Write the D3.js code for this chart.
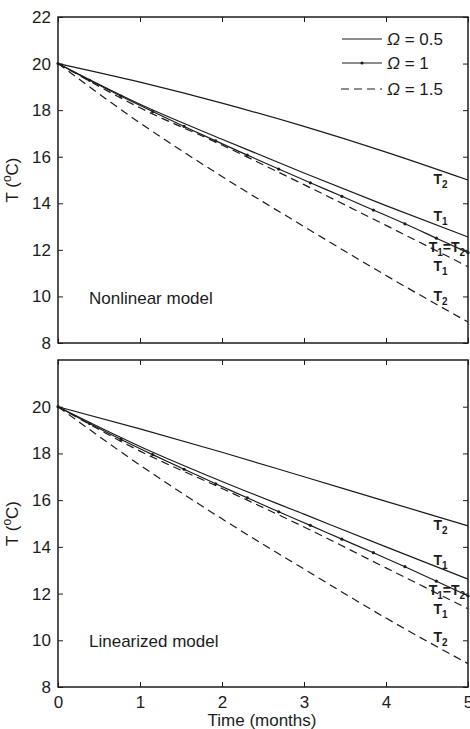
<!DOCTYPE html>
<html><head><meta charset="utf-8">
<script src="https://cdn.jsdelivr.net/npm/d3@7"></script>
<style>body{margin:0;background:#fff}svg{display:block;font-family:"Liberation Sans",Arial,sans-serif}</style>
</head><body><svg id="c" width="470" height="729"></svg>
<script>
// ---- data ----
const months = [0, 1, 2, 3, 4, 5];
const monthsW1 = [0, 0.385, 0.769, 1.154, 1.538, 1.923, 2.308, 2.692, 3.077, 3.462, 3.846, 4.231, 4.615, 5];
const yTicks = [8, 10, 12, 14, 16, 18, 20, 22];
const xTicks = [0, 1, 2, 3, 4, 5];
// Nonlinear model
const nlT2w05 = [20, 19.2, 18.3, 17.3, 16.2, 15.0];
const nlT1w05 = [20, 18.25, 16.75, 15.3, 13.9, 12.55];
const nlTw1  = [20, 19.28, 18.6, 17.94, 17.3, 16.68, 16.07, 15.47, 14.88, 14.3, 13.71, 13.12, 12.5, 11.88];
const nlT1w15 = [20, 18.1, 16.5, 14.8, 13.05, 11.28];
const nlT2w15 = [20, 17.45, 15.15, 13.0, 10.9, 8.9];
// Linearized model
const liT2w05 = [20, 19.05, 18.05, 17.0, 15.95, 14.9];
const liT1w05 = [20, 18.3, 16.8, 15.4, 14.0, 12.62];
const liTw1  = [20, 19.28, 18.6, 17.95, 17.32, 16.7, 16.1, 15.5, 14.92, 14.33, 13.75, 13.15, 12.53, 11.9];
const liT1w15 = [20, 18.1, 16.5, 14.85, 13.1, 11.35];
const liT2w15 = [20, 17.5, 15.2, 13.05, 10.95, 9.0];
const legendLabels = ["0.5", "1", "1.5"];
const panelTitles = ["Nonlinear model", "Linearized model"];
// curve annotations: [x, y, subscript]
const nlNotes = [[4.58, 15.0, "2"], [4.58, 13.4, "1"], [4.52, 12.1, "1=2"], [4.58, 11.26, "1"], [4.58, 9.98, "2"]];
const liNotes = [[4.58, 14.9, "2"], [4.58, 13.4, "1"], [4.52, 12.1, "1=2"], [4.58, 11.3, "1"], [4.58, 10.1, "2"]];

// ---- drawing ----
const svg = d3.select("#c");
const ink = "#1c1c1c";
const L = 58, R = 468;
const x = d3.scaleLinear().domain([0, 5]).range([L, R]);
const FS = 17;

function panel(top, bottom, series, w1, notes, title, showXLabels, showTop22) {
  const y = d3.scaleLinear().domain([8, 22]).range([bottom, top]);
  const g = svg.append("g");
  const line = (xs) => d3.line().x((d, i) => x(xs[i])).y(d => y(d)).curve(d3.curveMonotoneX);
  const lw = 1.2;
  g.append("path").attr("d", line(months)(series[0])).attr("fill", "none").attr("stroke", ink).attr("stroke-width", lw);
  g.append("path").attr("d", line(months)(series[1])).attr("fill", "none").attr("stroke", ink).attr("stroke-width", lw);
  g.append("path").attr("d", line(monthsW1)(w1)).attr("fill", "none").attr("stroke", ink).attr("stroke-width", lw);
  g.selectAll(null).data(w1).enter().append("circle")
    .attr("cx", (d, i) => x(monthsW1[i])).attr("cy", d => y(d)).attr("r", 1.6).attr("fill", ink);
  g.append("path").attr("d", line(months)(series[2])).attr("fill", "none").attr("stroke", ink).attr("stroke-width", lw).attr("stroke-dasharray", "8,5");
  g.append("path").attr("d", line(months)(series[3])).attr("fill", "none").attr("stroke", ink).attr("stroke-width", lw).attr("stroke-dasharray", "8,5");

  const yt = showTop22 ? yTicks : yTicks.filter(v => v !== 22);
  const axL = g.append("g").attr("transform", `translate(${L},0)`)
    .call(d3.axisLeft(y).tickValues(yt).tickSizeInner(-5).tickSizeOuter(0).tickPadding(7));
  const axR = g.append("g").attr("transform", `translate(${R},0)`)
    .call(d3.axisRight(y).tickValues(yt).tickSizeInner(-5).tickSizeOuter(0).tickFormat(""));
  const axB = g.append("g").attr("transform", `translate(0,${bottom})`)
    .call(d3.axisBottom(x).tickValues(xTicks).tickSizeInner(-5).tickSizeOuter(0).tickPadding(9)
      .tickFormat(showXLabels ? d3.format("d") : ""));
  const axT = g.append("g").attr("transform", `translate(0,${top})`)
    .call(d3.axisTop(x).tickValues(xTicks).tickSizeInner(-5).tickSizeOuter(0).tickFormat(""));
  [axL, axR, axB, axT].forEach(a => {
    a.select(".domain").remove();
    a.selectAll("line").attr("stroke", ink).attr("stroke-width", 1);
    a.selectAll("text").attr("font-size", FS).attr("fill", ink).attr("font-family", "Liberation Sans, Arial, sans-serif");
  });
  g.append("rect").attr("x", L).attr("y", top).attr("width", R - L).attr("height", bottom - top)
    .attr("fill", "none").attr("stroke", ink).attr("stroke-width", 1.5);

  const ty = g.append("text").attr("transform", `translate(18,${(top + bottom) / 2}) rotate(-90)`)
    .attr("text-anchor", "middle").attr("font-size", FS).attr("fill", ink);
  ty.append("tspan").text("T (");
  ty.append("tspan").text("o").attr("font-size", 12).attr("dy", -7);
  ty.append("tspan").text("C)").attr("dy", 7);

  g.append("text").attr("x", 89).attr("y", y(9.95) + 6).attr("font-size", FS).attr("fill", ink).text(title);

  notes.forEach(n => {
    const t = g.append("text").attr("x", x(n[0])).attr("y", y(n[1]) + 4)
      .attr("font-size", 14).attr("font-weight", "bold").attr("fill", ink);
    if (n[2] === "1=2") {
      t.append("tspan").text("T");
      t.append("tspan").text("1").attr("font-size", 10).attr("dy", 4);
      t.append("tspan").text("=T").attr("dy", -4);
      t.append("tspan").text("2").attr("font-size", 10).attr("dy", 4);
    } else {
      t.append("tspan").text("T");
      t.append("tspan").text(n[2]).attr("font-size", 10).attr("dy", 4);
    }
  });
  return y;
}

panel(17, 343, [nlT2w05, nlT1w05, nlT1w15, nlT2w15], nlTw1, nlNotes, panelTitles[0], false, true);
panel(360, 687, [liT2w05, liT1w05, liT1w15, liT2w15], liTw1, liNotes, panelTitles[1], true, false);

svg.append("text").attr("x", 262).attr("y", 726).attr("text-anchor", "middle")
  .attr("font-size", FS).attr("fill", ink).text("Time (months)");

const lg = svg.append("g");
const rows = [39, 63, 89];
legendLabels.forEach((lab, i) => {
  const ln = lg.append("line").attr("x1", 342).attr("x2", 382).attr("y1", rows[i]).attr("y2", rows[i])
    .attr("stroke", ink).attr("stroke-width", 1.2);
  if (i === 2) ln.attr("stroke-dasharray", "8,5").attr("x1", 341);
  if (i === 1) lg.append("circle").attr("cx", 362).attr("cy", rows[i]).attr("r", 1.6).attr("fill", ink);
  const t = lg.append("text").attr("x", 387).attr("y", rows[i] + 6).attr("font-size", FS).attr("fill", ink);
  t.append("tspan").text("\u03A9").attr("font-style", "italic");
  t.append("tspan").text(" = " + lab);
});
</script></body></html>
